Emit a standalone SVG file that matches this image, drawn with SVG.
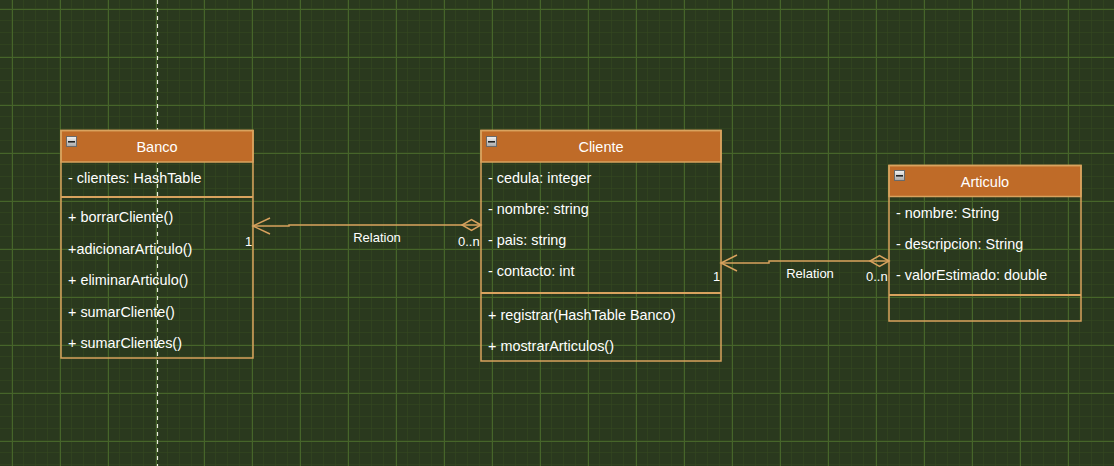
<svg xmlns="http://www.w3.org/2000/svg" width="1114" height="466" viewBox="0 0 1114 466">
<style>
.box{fill:none;stroke:#d9a25e;stroke-width:1.5}
.hdr{fill:#bf6b28;stroke:#d9a25e;stroke-width:1.5}
.div{stroke:#d9a25e;stroke-width:2}
.t{font-family:"Liberation Sans",Arial,sans-serif;font-size:14.4px;fill:#ffffff}
.h{font-family:"Liberation Sans",Arial,sans-serif;font-size:14.5px;fill:#ffffff;text-anchor:middle}
.lbl{font-family:"Liberation Sans",Arial,sans-serif;font-size:13px;fill:#ffffff}
.conn{fill:none;stroke:#d9a25e;stroke-width:1.5}
</style>
<defs>
<pattern id="minor" width="12" height="12" patternUnits="userSpaceOnUse" x="0" y="9">
<path d="M12 0V12M0 12H12" stroke="#35491f" stroke-width="1" fill="none"/>
</pattern>
<pattern id="major" width="48" height="48" patternUnits="userSpaceOnUse" x="12" y="9">
<path d="M0.5 0V48M0 0.5H48" stroke="#46652a" stroke-width="1" fill="none"/>
</pattern>
<linearGradient id="ig" x1="0" y1="0" x2="0" y2="1">
<stop offset="0" stop-color="#f2f2f2"/>
<stop offset="1" stop-color="#a8a8a8"/>
</linearGradient>
<g id="icon">
<rect x="0.5" y="0.5" width="10" height="10" fill="url(#ig)" stroke="#6a6a6a" stroke-width="1"/>
<rect x="2" y="5" width="7" height="1.6" fill="#222"/>
</g>
</defs>
<rect width="1114" height="466" fill="#2a391e"/>
<rect width="1114" height="466" fill="url(#minor)"/>
<rect width="1114" height="466" fill="url(#major)"/>
<line x1="157.5" y1="0" x2="157.5" y2="466" stroke="#e8eadc" stroke-width="1.2" stroke-dasharray="4 4"/>

<g id="connectors">
<path class="conn" d="M253 226H289V225H481"/>
<path class="conn" d="M270 218L253 226L270 234"/>
<path class="conn" d="M481 225L471.5 219.5L462 225L471.5 230.5Z" fill="#2a391e"/>
<text class="lbl" x="377" y="242" text-anchor="middle">Relation</text>
<text class="lbl" x="245" y="246">1</text>
<text class="lbl" x="458" y="246">0..n</text>

<path class="conn" d="M721 263H769V261H889"/>
<path class="conn" d="M737 255L721 263L737 271"/>
<path class="conn" d="M889 261L879.5 255.5L870 261L879.5 266.5Z" fill="#2a391e"/>
<text class="lbl" x="810" y="278" text-anchor="middle">Relation</text>
<text class="lbl" x="713" y="281">1</text>
<text class="lbl" x="866" y="281">0..n</text>
</g>

<g id="Banco">
<rect class="hdr" x="61" y="130.5" width="192" height="31.5"/>
<rect class="box" x="61" y="130.5" width="192" height="227.5"/>
<use href="#icon" x="66" y="136"/>
<text class="h" x="157" y="152">Banco</text>
<text class="t" x="68" y="183">- clientes: HashTable</text>
<line class="div" x1="61" y1="197" x2="253" y2="197"/>
<text class="t" x="68" y="222">+ borrarCliente()</text>
<text class="t" x="68" y="254">+adicionarArticulo()</text>
<text class="t" x="68" y="285">+ eliminarArticulo()</text>
<text class="t" x="68" y="317">+ sumarCliente()</text>
<text class="t" x="68" y="348">+ sumarClientes()</text>
</g>

<g id="Cliente">
<rect class="hdr" x="481" y="130.5" width="240" height="31.5"/>
<rect class="box" x="481" y="130.5" width="240" height="230.5"/>
<use href="#icon" x="486" y="136"/>
<text class="h" x="601" y="152">Cliente</text>
<text class="t" x="488" y="183">- cedula: integer</text>
<text class="t" x="488" y="214">- nombre: string</text>
<text class="t" x="488" y="245">- pais: string</text>
<text class="t" x="488" y="276">- contacto: int</text>
<line class="div" x1="481" y1="293" x2="721" y2="293"/>
<text class="t" x="488" y="320">+ registrar(HashTable Banco)</text>
<text class="t" x="488" y="351">+ mostrarArticulos()</text>
</g>

<g id="Articulo">
<rect class="hdr" x="889" y="165.5" width="192" height="31"/>
<rect class="box" x="889" y="165.5" width="192" height="155.5"/>
<use href="#icon" x="894" y="170"/>
<text class="h" x="985" y="187">Articulo</text>
<text class="t" x="896" y="218">- nombre: String</text>
<text class="t" x="896" y="249">- descripcion: String</text>
<text class="t" x="896" y="280">- valorEstimado: double</text>
<line class="div" x1="889" y1="295" x2="1081" y2="295"/>
</g>
</svg>
